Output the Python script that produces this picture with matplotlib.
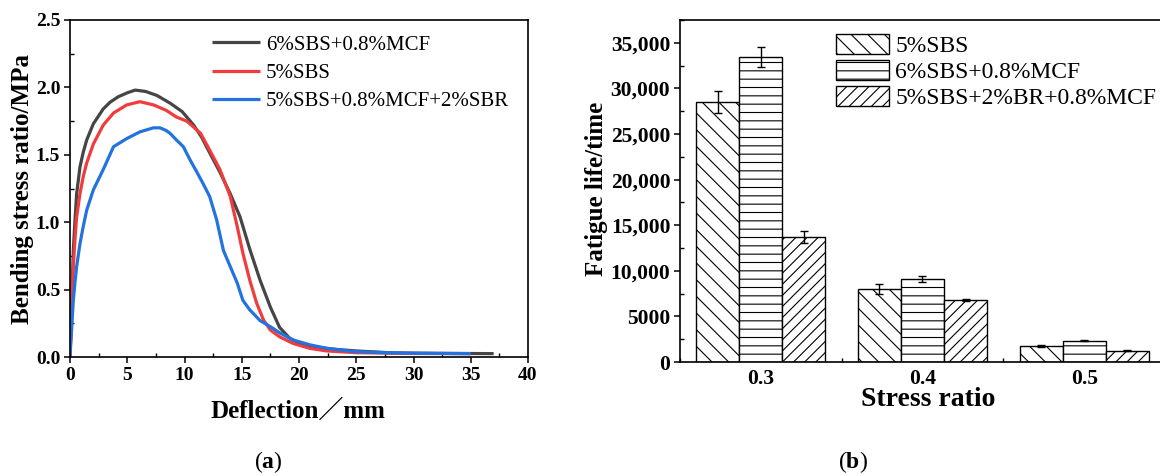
import matplotlib
matplotlib.use('Agg')
from matplotlib import pyplot as plt
from matplotlib.ticker import MultipleLocator, AutoMinorLocator
import numpy as np

plt.rcParams['font.family'] = ['Liberation Serif', 'Noto Sans CJK SC', 'DejaVu Sans']
plt.rcParams['mathtext.fontset'] = 'custom'
plt.rcParams['mathtext.rm'] = 'Liberation Serif'
plt.rcParams['mathtext.bf'] = 'Liberation Serif:bold'
plt.rcParams['hatch.linewidth'] = 0.8

# ---- (a) bending curves ----
mcf_x = [0, 0.08, 0.15, 0.29, 0.44, 0.58, 0.87, 1.16, 1.46, 2.04, 2.9, 3.5, 4.2, 5.0, 5.7, 6.6, 7.6, 8.8,
         9.8, 10.8, 11.5, 12.23, 13.1, 14.0, 14.85, 15.7, 16.6, 17.5, 18.3, 19.2, 20.1, 21.3, 23.0, 25.0,
         28.2, 32.0, 37.0]
mcf_y = [0, 0.22, 0.42, 0.79, 1.02, 1.21, 1.41, 1.52, 1.61, 1.73, 1.84, 1.89, 1.93, 1.96, 1.98, 1.97, 1.94,
         1.88, 1.82, 1.72, 1.63, 1.51, 1.37, 1.21, 1.04, 0.80, 0.57, 0.37, 0.22, 0.138, 0.10, 0.075, 0.058,
         0.045, 0.03, 0.027, 0.025]

sbs_x = [0, 0.08, 0.15, 0.29, 0.44, 0.58, 0.87, 1.16, 1.46, 2.04, 2.9, 3.8, 4.95, 6.1, 7.3, 8.4, 9.3, 10.2,
         11.4, 12.23, 13.1, 14.0, 14.6, 15.1, 15.7, 16.3, 16.9, 17.5, 18.3, 19.5, 20.96, 22.4, 25.0, 30.0,
         35.0]
sbs_y = [0, 0.18, 0.35, 0.67, 0.88, 1.04, 1.21, 1.34, 1.44, 1.58, 1.72, 1.81, 1.87, 1.894, 1.87, 1.83, 1.78,
         1.75, 1.66, 1.53, 1.39, 1.19, 0.97, 0.77, 0.57, 0.40, 0.275, 0.20, 0.15, 0.10, 0.064, 0.045, 0.032,
         0.026, 0.025]

sbr_x = [0, 0.08, 0.15, 0.29, 0.44, 0.58, 0.87, 1.16, 1.46, 2.04, 2.9, 3.8, 4.95, 6.1, 7.28, 7.86, 8.4, 8.73,
         9.3, 9.9, 10.5, 11.06, 11.6, 12.2, 12.8, 13.4, 14.0, 14.6, 15.1, 15.7, 16.6, 17.5, 18.3, 19.5,
         20.96, 22.4, 24.7, 26.7, 29.8, 35.0]
sbr_y = [0, 0.12, 0.22, 0.42, 0.56, 0.67, 0.84, 0.97, 1.09, 1.24, 1.39, 1.56, 1.62, 1.67, 1.70, 1.70, 1.68,
         1.66, 1.61, 1.56, 1.46, 1.375, 1.29, 1.19, 1.02, 0.79, 0.67, 0.55, 0.42, 0.35, 0.27, 0.225, 0.18,
         0.126, 0.09, 0.065, 0.041, 0.034, 0.028, 0.025]

curve_labels = ['6%SBS+0.8%MCF', '5%SBS', '5%SBS+0.8%MCF+2%SBR']
curve_colors = ['#454545', '#f03c3c', '#2272e0']

# ---- (b) fatigue life ----
stress_ratio = [0.3, 0.4, 0.5]
bar_labels = ['5%SBS', '6%SBS+0.8%MCF', '5%SBS+2%BR+0.8%MCF']
life_sbs = [28500, 8000, 1750]
life_mcf = [33400, 9100, 2330]
life_br = [13700, 6800, 1240]
err_sbs = [1200, 500, 80]
err_mcf = [1100, 300, 60]
err_br = [650, 150, 40]
life_ticks = [0, 5000, 10000, 15000, 20000, 25000, 30000, 35000]
life_ticklabels = ['0', '5000', '10,000', '15,000', '20,000', '25,000', '30,000', '35,000']

fig = plt.figure(figsize=(11.6, 4.76), dpi=100)
ax1 = fig.add_axes([70/1160, 119/476, 458/1160, 337/476])
ax2 = fig.add_axes([680/1160, 114/476, 485/1160, 342/476])

for xs, ys, lab, c in zip([mcf_x, sbs_x, sbr_x], [mcf_y, sbs_y, sbr_y], curve_labels, curve_colors):
    ax1.plot(xs, ys, color=c, lw=2.3, label=lab, solid_capstyle='butt', solid_joinstyle='round')

ax1.set_xlim(0, 40)
ax1.set_ylim(0, 2.5)
ax1.xaxis.set_major_locator(MultipleLocator(5))
ax1.yaxis.set_major_locator(MultipleLocator(0.5))
ax1.xaxis.set_minor_locator(AutoMinorLocator(2))
ax1.yaxis.set_minor_locator(AutoMinorLocator(2))
ax1.tick_params(which='major', direction='out', length=4, width=1.1, labelsize=14, pad=3)
ax1.tick_params(which='minor', direction='in', length=3, width=1.0)
for lab in ax1.get_xticklabels() + ax1.get_yticklabels():
    lab.set_fontweight('bold')
for s in ax1.spines.values():
    s.set_linewidth(1.2)
ax1.set_xlabel('Deflection\uff0fmm', fontsize=18, fontweight='bold')
ax1.set_ylabel('Bending stress ratio/MPa', fontsize=18, fontweight='bold')
ax1.xaxis.set_label_coords(0.497, -0.125)
ax1.yaxis.set_label_coords(-0.079, 0.5)
ax1.legend(loc='upper left', bbox_to_anchor=(0.31, 0.955), frameon=False, fontsize=15,
           handlelength=2.3, handletextpad=0.3, labelspacing=0.42, borderpad=0, borderaxespad=0)

w = 0.0266
x = np.array(stress_ratio)
hatches = ['\\\\', '--', '///']
for i, (vals, errs, lab, h) in enumerate(zip([life_sbs, life_mcf, life_br], [err_sbs, err_mcf, err_br],
                                             bar_labels, hatches)):
    ax2.bar(x + (i - 1) * w, vals, width=w, color='white', edgecolor='black', lw=1.0,
            hatch=h, label=lab, zorder=2)
    ax2.errorbar(x + (i - 1) * w, vals, yerr=errs, fmt='none', ecolor='black', elinewidth=1.0,
                 capsize=3, capthick=1.0, zorder=3)

ax2.set_xlim(0.25, 0.55)
ax2.set_ylim(0, 37500)
ax2.set_xticks(stress_ratio)
ax2.set_xticklabels(['0.3', '0.4', '0.5'])
ax2.xaxis.set_minor_locator(MultipleLocator(0.05))
ax2.set_yticks(life_ticks)
ax2.set_yticklabels(life_ticklabels)
ax2.yaxis.set_minor_locator(AutoMinorLocator(2))
ax2.tick_params(axis='x', which='major', direction='in', length=4, width=1.1, labelsize=15.5, pad=5)
ax2.tick_params(axis='y', which='major', direction='out', length=4, width=1.1, labelsize=15.5, pad=3)
ax2.tick_params(which='minor', direction='in', length=3, width=1.0)
for lab in ax2.get_xticklabels() + ax2.get_yticklabels():
    lab.set_fontweight('bold')
for s in ax2.spines.values():
    s.set_linewidth(1.2)
ax2.set_xlabel('Stress ratio', fontsize=20, fontweight='bold')
ax2.set_ylabel('Fatigue life/time', fontsize=18, fontweight='bold')
ax2.xaxis.set_label_coords(0.511, -0.074)
ax2.yaxis.set_label_coords(-0.148, 0.507)
ax2.legend(loc='upper left', bbox_to_anchor=(0.322, 0.96), frameon=False, fontsize=17,
           handlelength=2.25, handleheight=0.95, handletextpad=0.25, labelspacing=0.12,
           borderpad=0, borderaxespad=0)

fig.text(268/1160, 1 - 462/476, r'($\mathbf{a}$)', ha='center', va='center', fontsize=17)
fig.text(853/1160, 1 - 462/476, r'($\mathbf{b}$)', ha='center', va='center', fontsize=17)

fig.savefig('out.png', dpi=100)
